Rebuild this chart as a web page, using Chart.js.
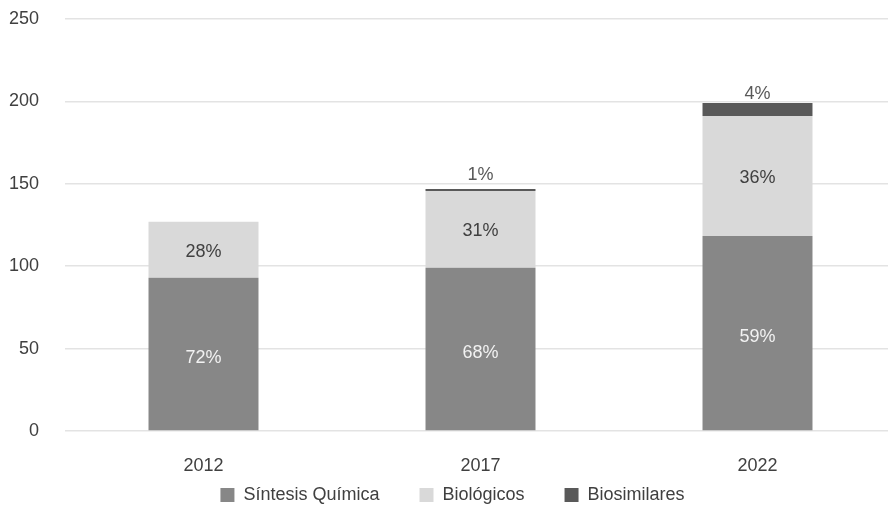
<!DOCTYPE html>
<html>
<head>
<meta charset="utf-8">
<script src="https://cdn.jsdelivr.net/npm/chart.js@4.4.7/dist/chart.umd.min.js"></script>
<style>
  html, body { margin: 0; padding: 0; background: #fff; overflow: hidden; }
  #wrap { position: relative; width: 896px; height: 506px; }
</style>
</head>
<body>
<div id="wrap"><canvas id="chart"></canvas></div>
<script>
const years = ['2012', '2017', '2022'];
const sintesis = [93, 99, 118.3];
const biologicos = [34, 46.7, 72.9];
const biosimilares = [0, 1.2, 7.8];
const sintesisPct = ['72%', '68%', '59%'];
const biologicosPct = ['28%', '31%', '36%'];
const biosimilaresPct = [null, '1%', '4%'];

const FONT = '"Liberation Sans", Arial, sans-serif';

const pctLabels = {
  id: 'pctLabels',
  afterDatasetsDraw(chart) {
    const ctx = chart.ctx;
    ctx.save();
    ctx.font = '18px ' + FONT;
    ctx.textAlign = 'center';
    ctx.textBaseline = 'middle';
    const sets = [
      { labels: sintesisPct, color: '#f2f2f2', offset: 4 },
      { labels: biologicosPct, color: '#404040', offset: 2 },
      { labels: biosimilaresPct, color: '#595959', offset: -15 }
    ];
    sets.forEach((s, di) => {
      chart.getDatasetMeta(di).data.forEach((bar, i) => {
        if (!s.labels[i]) return;
        const y = (bar.y + bar.base) / 2 + s.offset;
        ctx.fillStyle = s.color;
        ctx.fillText(s.labels[i], bar.x, y);
      });
    });
    ctx.restore();
  }
};

new Chart(document.getElementById('chart'), {
  type: 'bar',
  data: {
    labels: years,
    datasets: [
      { label: 'Síntesis Química', data: sintesis, backgroundColor: '#878787' },
      { label: 'Biológicos', data: biologicos, backgroundColor: '#d9d9d9' },
      { label: 'Biosimilares', data: biosimilares, backgroundColor: '#595959' }
    ]
  },
  options: {
    responsive: true,
    maintainAspectRatio: false,
    animation: false,
    datasets: { bar: { categoryPercentage: 1, barPercentage: 0.397 } },
    layout: { padding: { left: 9, top: 19, right: 0, bottom: 0 } },
    plugins: {
      legend: {
        position: 'bottom',
        maxHeight: 60,
        labels: {
          boxWidth: 14,
          boxHeight: 14,
          padding: 40,
          color: '#404040',
          font: { family: FONT, size: 18 }
        }
      },
      tooltip: { enabled: false }
    },
    scales: {
      x: {
        stacked: true,
        grid: { display: false, drawTicks: false },
        border: { display: false },
        ticks: { padding: 24, color: '#404040', font: { family: FONT, size: 18 } },
        afterFit(scale) {
          // keep the axis thin; labels may spill into the legend band
          scale.height = 15;
          scale._computeLabelArea = () => undefined;
        }
      },
      y: {
        stacked: true,
        min: 0,
        max: 250,
        grid: { color: '#e3e3e3', lineWidth: 1.5, drawTicks: false },
        border: { display: false },
        ticks: { stepSize: 50, padding: 26, color: '#404040', font: { family: FONT, size: 18 } },
        afterFit(scale) {
          scale.width = 56;
          scale.paddingTop = 0;
          scale.paddingBottom = 0;
        }
      }
    }
  },
  plugins: [pctLabels]
});
</script>
</body>
</html>
